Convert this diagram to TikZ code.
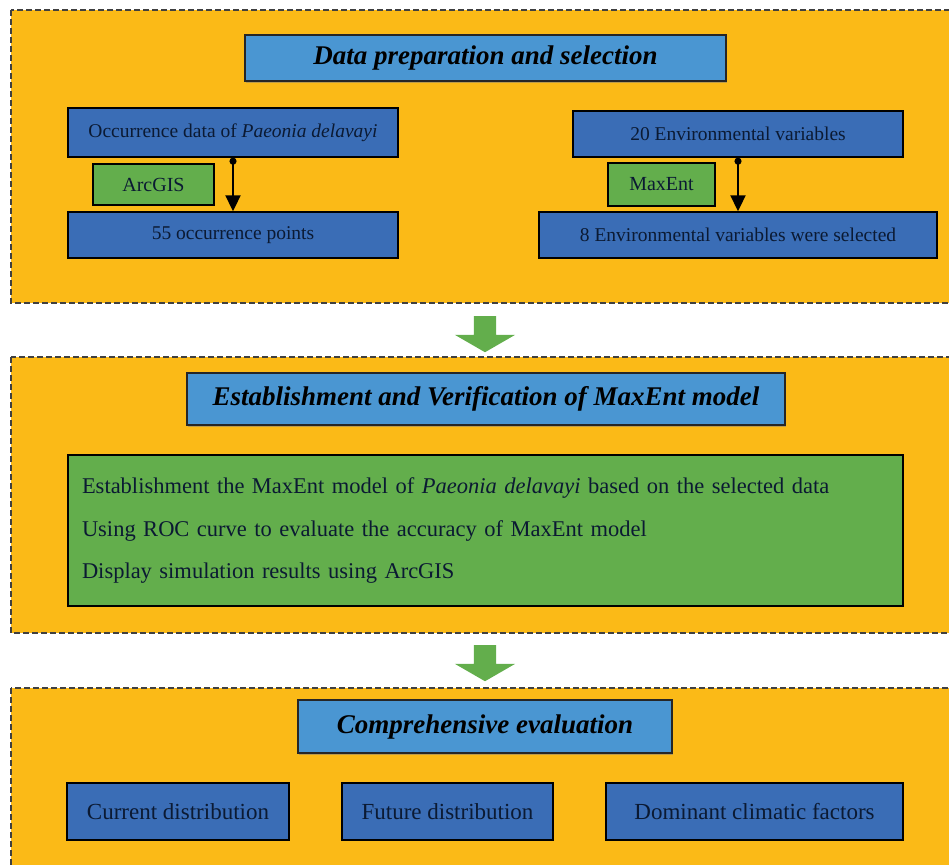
\documentclass[tikz,border=0pt]{standalone}
\usepackage{fontspec}
\setmainfont{Liberation Serif}
\usepackage{tikz}
\usetikzlibrary{arrows.meta, positioning, shapes.arrows, shadows}
\definecolor{PanelGold}{HTML}{FBBA17}
\definecolor{TitleBlue}{HTML}{4A96D2}
\definecolor{BoxBlue}{HTML}{3A6DB6}
\definecolor{ToolGreen}{HTML}{63AE4C}
\definecolor{TextNavy}{HTML}{0B1A33}
\tikzset{
  % Panel and box styles
  panelbox/.style={draw=black!75, fill=PanelGold, dashed, dash pattern=on 6pt off 3pt, line width=1.6pt},
  titlebox/.style={rectangle, draw=black!85, fill=TitleBlue, line width=1.4pt, text=black, font=\fontsize{27}{30}\selectfont\bfseries\itshape, align=center, drop shadow={shadow xshift=0.5pt, shadow yshift=-2pt, opacity=0.5}},
  databox/.style={rectangle, draw=black, fill=BoxBlue, line width=1.4pt, text=TextNavy, font=\fontsize{19.5}{22}\selectfont, align=center},
  toolbox/.style={rectangle, draw=black, fill=ToolGreen, line width=1.4pt, text=TextNavy, font=\fontsize{20}{22}\selectfont, align=center},
  resultbox/.style={rectangle, draw=black, fill=BoxBlue, line width=1.4pt, text=TextNavy, font=\fontsize{23}{26}\selectfont, align=center},
  % Arrow styles
  conn/.style={{Circle[length=7pt]}-{Triangle[length=16pt, width=15pt]}, line width=2pt, black},
  flowarrow/.style={single arrow, single arrow head extend=19pt, single arrow tip angle=120, minimum height=36pt, inner sep=11pt, fill=ToolGreen, draw=none, rotate=-90}
}
\begin{document}
\begin{tikzpicture}[x=1pt, y=-1pt]
  \useasboundingbox (0,0) rectangle (949,864);
  \clip (0,0) rectangle (949,864);
  % Panels
  \draw[panelbox] (11,10) rectangle (975,303);
  \draw[panelbox] (11,357) rectangle (975,633);
  \draw[panelbox] (11,688) rectangle (975,890);

  % Data preparation
  \node[titlebox, minimum width=481pt, minimum height=46pt] (prep) at (485.5,58) {Data preparation and selection};

  \node[databox, minimum width=330pt, minimum height=49pt] (occ) at (233,132.5) {Occurrence data of \textit{Paeonia delavayi}};
  \node[toolbox, minimum width=121pt, minimum height=41pt] (arcgis) at (153.5,184.5) {ArcGIS};
  \node[databox, minimum width=330pt, minimum height=46pt] (pts) at (233,235) {55 occurrence points};

  \node[databox, minimum width=330pt, minimum height=46pt] (env20) at (738,134) {20 Environmental variables};
  \node[toolbox, minimum width=107pt, minimum height=43pt] (maxent) at (661.5,184.5) {MaxEnt};
  \node[databox, minimum width=398pt, minimum height=46pt] (env8) at (738,235) {8 Environmental variables were selected};

  \draw[conn] (occ.south) -- (pts.north);
  \draw[conn] (env20.south) -- (env8.north);

  \node[flowarrow] (step1) at (485,331) {};

  % MaxEnt model
  \node[titlebox, minimum width=598pt, minimum height=52pt] (model) at (486,399) {Establishment and Verification of MaxEnt model};
  \node[toolbox, minimum width=835pt, minimum height=151pt, text width=807pt, align=left, font=\fontsize{22.5}{42}\selectfont] (tasks) at (485.5,530.5) {Establishment the MaxEnt model of \textit{Paeonia delavayi} based on the selected data\\Using ROC curve to evaluate the accuracy of MaxEnt model\\Display simulation results using ArcGIS};

  \node[flowarrow] (step2) at (485,660) {};

  % Evaluation
  \node[titlebox, minimum width=374pt, minimum height=53pt] (eval) at (485,726.5) {Comprehensive evaluation};
  \node[resultbox, minimum width=222pt, minimum height=57pt] (cur) at (178,811.5) {Current distribution};
  \node[resultbox, minimum width=211pt, minimum height=57pt] (fut) at (447.5,811.5) {Future distribution};
  \node[resultbox, minimum width=297pt, minimum height=57pt] (dom) at (754.5,811.5) {Dominant climatic factors};
\end{tikzpicture}
\end{document}
